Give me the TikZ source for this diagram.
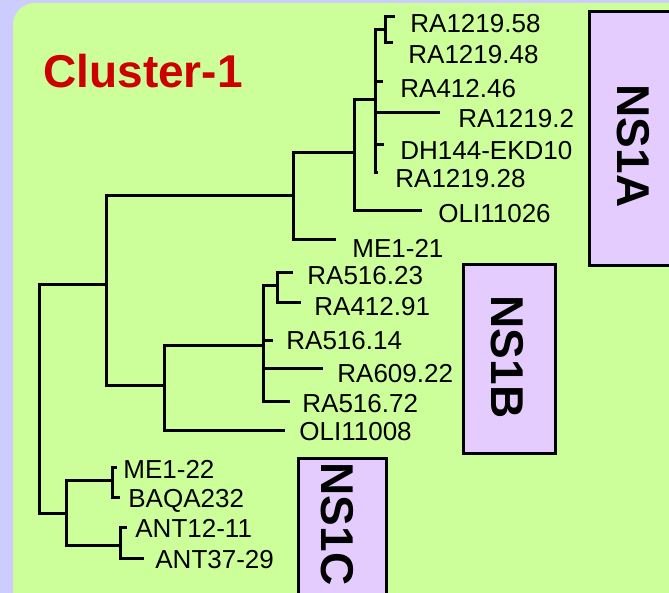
\documentclass[tikz,border=0pt]{standalone}
\usepackage{fontspec}
\setmainfont{Liberation Sans}
\definecolor{panelblue}{HTML}{CCCCFF}
\definecolor{clustergreen}{HTML}{CCFF99}
\definecolor{cladepurple}{HTML}{E5CCFF}
\definecolor{clusterred}{HTML}{CC0000}

\begin{document}
\begin{tikzpicture}[x=0.5pt, y=-0.5pt,
    branch/.style={line width=1.5pt},
    taxon/.style={anchor=base west, inner sep=0pt,
      font=\fontsize{13}{15}\selectfont},
    cladebox/.style={draw, line width=1.5pt, fill=cladepurple},
    cladename/.style={rotate=-90, inner sep=0pt,
      font=\fontsize{23}{26}\selectfont\bfseries}
  ]
  \useasboundingbox (0,0) rectangle (669,593);
  \fill[panelblue] (0,0) rectangle (669,593);
  \fill[clustergreen, rounded corners=11pt] (13,3) rectangle (720,640);

  \node[anchor=base west, inner sep=0pt, text=clusterred,
    font=\fontsize{23}{26}\selectfont\bfseries] (title) at (43,88) {Cluster-1};

  % clade boxes
  \draw[cladebox] (589,12) rectangle (680,266);
  \draw[cladebox] (463,265) rectangle (555,453);
  \draw[cladebox] (298,458) rectangle (386,610);
  \node[cladename] (ns1a) at (633,146) {NS1A};
  \node[cladename] (ns1b) at (507,357) {NS1B};
  \node[cladename] (ns1c) at (337,524) {NS1C};

  % inner nodes of the tree
  \coordinate (root) at (39,399);
  \coordinate (n1) at (106,285);
  \coordinate (n1a) at (293,196);
  \coordinate (n1a2) at (354,153);
  \coordinate (n1a3) at (375,100);
  \coordinate (n1a4) at (385,30);
  \coordinate (n1b) at (164,385);
  \coordinate (n1b2) at (263,345);
  \coordinate (n1b3) at (277,286);
  \coordinate (n1c) at (66,513);
  \coordinate (n1c1) at (112,480);
  \coordinate (n1c2) at (120,545);

  \draw[branch] (root) |- (n1);
  \draw[branch] (root) |- (n1c);
  \draw[branch] (n1) |- (n1a);
  \draw[branch] (n1) |- (n1b);
  \draw[branch] (n1a) |- (n1a2);
  \draw[branch] (n1a2) |- (n1a3);
  \draw[branch] (n1a3) |- (n1a4);
  \draw[branch] (n1b) |- (n1b2);
  \draw[branch] (n1b2) |- (n1b3);
  \draw[branch] (n1c) |- (n1c1);
  \draw[branch] (n1c) |- (n1c2);

  % leaves: parent / tip x / tip y / label x / baseline / name / text
  \foreach \up/\tx/\ty/\lx/\ly/\name/\txt in {
      n1a4/395/17/410/33/ra121958/RA1219.58,
      n1a4/393/43/408/64/ra121948/RA1219.48,
      n1a3/383/82/400/98/ra41246/RA412.46,
      n1a3/440/113/458/128/ra12192/RA1219.2,
      n1a3/384/145/400/160/dh144/DH144-EKD10,
      n1a3/378/173/395/188/ra121928/RA1219.28,
      n1a2/422/211/438/223/oli11026/OLI11026,
      n1a/336/240/352/257/me121/ME1-21,
      n1b3/293/273/307/285/ra51623/RA516.23,
      n1b3/301/302/314/315/ra41291/RA412.91,
      n1b2/273/340/286/350/ra51614/RA516.14,
      n1b2/323/368/337/382/ra60922/RA609.22,
      n1b2/290/401/302/412/ra51672/RA516.72,
      n1b/285/430/299/440/oli11008/OLI11008,
      n1c1/117/467/123/478/me122/ME1-22,
      n1c1/120/497/128/507/baqa232/BAQA232,
      n1c2/127/527/135/537/ant1211/ANT12-11,
      n1c2/144/558/155/568/ant3729/ANT37-29}
  {
    \coordinate (\name-tip) at (\tx,\ty);
    \node[taxon] (\name) at (\lx,\ly) {\txt};
    \draw[branch] (\up) |- (\name-tip);
  }
\end{tikzpicture}
\end{document}
